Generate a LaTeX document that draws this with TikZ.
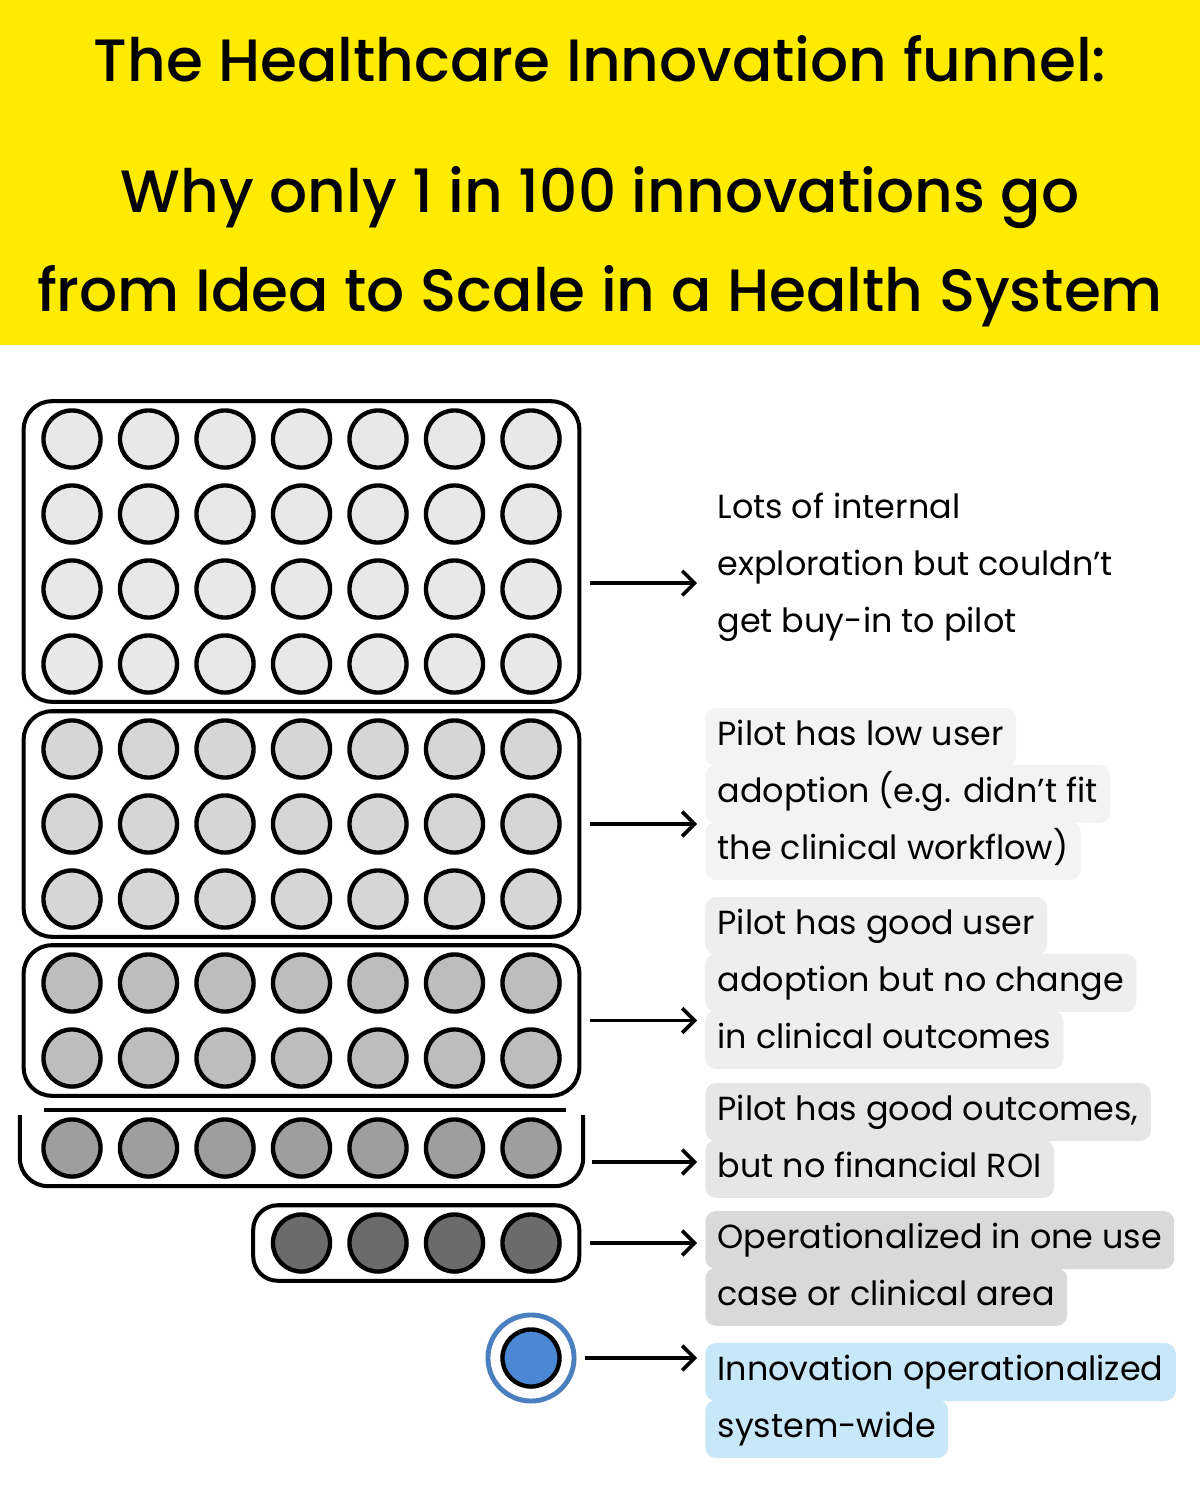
\documentclass[tikz,border=0pt]{standalone}
\usepackage{fontspec}
\setmainfont{Poppins}
\newfontfamily\headfont{Poppins}[UprightFont={* Medium}]
\usepackage{xcolor}
\usetikzlibrary{positioning,fit,arrows.meta}

\definecolor{titleyellow}{HTML}{FFEB00}
\definecolor{shade1}{HTML}{E8E8E8}
\definecolor{shade2}{HTML}{D6D6D6}
\definecolor{shade3}{HTML}{BDBDBD}
\definecolor{shade4}{HTML}{9E9E9E}
\definecolor{shade5}{HTML}{6B6B6B}
\definecolor{ballblue}{HTML}{4A87D4}
\definecolor{ringblue}{HTML}{4A80BF}
\definecolor{tint2}{HTML}{F3F3F3}
\definecolor{tint3}{HTML}{EEEEEE}
\definecolor{tint4}{HTML}{E6E6E6}
\definecolor{tint5}{HTML}{D9D9D9}
\definecolor{tint6}{HTML}{C8E7F9}

\begin{document}
\begin{tikzpicture}[
  x=0.02cm, y=-0.02cm,
  ball/.style={circle, draw, line width=2.5pt, minimum size=32.5pt, inner sep=0pt},
  tray/.style={draw, line width=2.3pt, rounded corners=16pt, inner xsep=10pt, inner ysep=4pt},
  title line/.style={anchor=base, font=\headfont\fontsize{34}{40}\selectfont},
  note line/.style={
    anchor=west,
    inner xsep=7pt,
    inner ysep=0pt,
    minimum height=33pt,
    text height=14pt,
    text depth=4pt,
    rounded corners=6pt,
    font=\fontsize{19}{23}\selectfont
  },
  next line/.style={below right=-1pt and 0pt of #1.south west},
  pointer/.style={line width=2.1pt, -{Straight Barb[length=7pt,width=14pt]}, shorten <=5pt, shorten >=4.5pt}
]
\useasboundingbox (0,0) rectangle (1200,1500);
\fill[white] (0,0) rectangle (1200,1500);
\fill[titleyellow] (0,0) rectangle (1200,345);

\node[title line] (head1) at (600,82)  {The Healthcare Innovation funnel:};
\node[title line] (head2) at (600,213) {Why only 1 in 100 innovations go};
\node[title line] (head3) at (600,312) {from Idea to Scale in a Health System};

% the funnel
\foreach \r in {1,...,4}
  \foreach \c in {1,...,7}
    \node[ball, fill=shade1] (b1-\r-\c) at ({72+76.5*(\c-1)},{439+75*(\r-1)}) {};
\foreach \r in {1,...,3}
  \foreach \c in {1,...,7}
    \node[ball, fill=shade2] (b2-\r-\c) at ({72+76.5*(\c-1)},{749+75*(\r-1)}) {};
\foreach \r in {1,2}
  \foreach \c in {1,...,7}
    \node[ball, fill=shade3] (b3-\r-\c) at ({72+76.5*(\c-1)},{983+75*(\r-1)}) {};
\foreach \c in {1,...,7}
  \node[ball, fill=shade4] (b4-\c) at ({72+76.5*(\c-1)},1148) {};
\foreach \c in {4,...,7}
  \node[ball, fill=shade5] (b5-\c) at ({72+76.5*(\c-1)},1243) {};
\node[ball, fill=ballblue] (b6) at (531,1358) {};
\node[circle, draw=ringblue, line width=2.8pt, minimum size=49pt] (ring6) at (b6) {};

\node[tray, fit=(b1-1-1)(b1-4-7)] (tray1) {};
\node[tray, fit=(b2-1-1)(b2-3-7)] (tray2) {};
\node[tray, fit=(b3-1-1)(b3-2-7)] (tray3) {};
\node[tray, fit=(b5-4)(b5-7), rounded corners=14pt] (tray5) {};
\node[fit=(b4-1)(b4-7), inner xsep=12pt, inner ysep=4pt] (tray4) {};
\draw[line width=2.3pt, rounded corners=16pt] ([yshift=-3pt]tray4.north west) -- (tray4.south west) -- (tray4.south east) -- ([yshift=-3pt]tray4.north east);
\draw[line width=2.3pt] ([xshift=14pt]tray4.north west) -- ([xshift=-10pt]tray4.north east);

% the notes
\node[note line] (n1a) at (705,510) {Lots of internal};
\node[note line, next line=n1a] (n1b) {exploration but couldn’t};
\node[note line, next line=n1b] (n1c) {get buy-in to pilot};

\begin{scope}[every node/.append style={fill=tint2}]
  \node[note line] (n2a) at (705,737) {Pilot has low user};
  \node[note line, next line=n2a] (n2b) {adoption (e.g. didn’t fit};
  \node[note line, next line=n2b] (n2c) {the clinical workflow)};
\end{scope}
\begin{scope}[every node/.append style={fill=tint3}]
  \node[note line] (n3a) at (705,926) {Pilot has good user};
  \node[note line, next line=n3a] (n3b) {adoption but no change};
  \node[note line, next line=n3b] (n3c) {in clinical outcomes};
\end{scope}
\begin{scope}[every node/.append style={fill=tint4}]
  \node[note line] (n4a) at (705,1112) {Pilot has good outcomes,};
  \node[note line, next line=n4a] (n4b) {but no financial ROI};
\end{scope}
\begin{scope}[every node/.append style={fill=tint5}]
  \node[note line] (n5a) at (705,1240) {Operationalized in one use};
  \node[note line, next line=n5a] (n5b) {case or clinical area};
\end{scope}
\begin{scope}[every node/.append style={fill=tint6}]
  \node[note line] (n6a) at (705,1372) {Innovation operationalized};
  \node[note line, next line=n6a] (n6b) {system-wide};
\end{scope}

\coordinate (a1) at ([yshift=-18pt]tray1.east);
\coordinate (a4) at ([yshift=-8pt]tray4.east);
\draw[pointer] (a1) -- (a1 -| n1b.west);
\draw[pointer] (tray2.east) -- (tray2.east -| n2b.west);
\draw[pointer] (tray3.east) -- (tray3.east -| n3b.west);
\draw[pointer] (a4) -- (a4 -| n4b.west);
\draw[pointer] (tray5.east) -- (tray5.east -| n5a.west);
\draw[pointer] (ring6.east) -- (ring6.east -| n6a.west);
\end{tikzpicture}
\end{document}
